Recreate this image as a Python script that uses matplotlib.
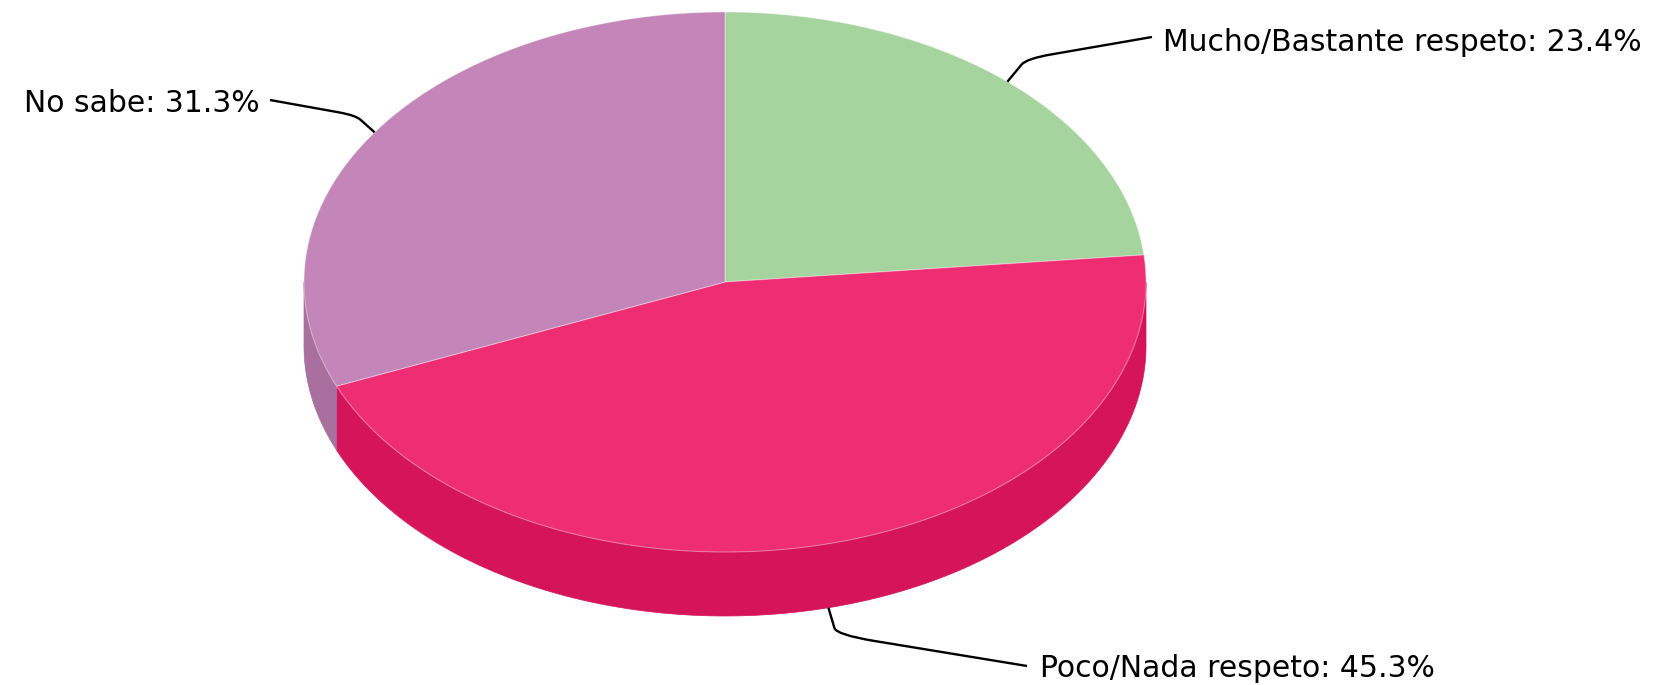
import matplotlib.pyplot as plt
from matplotlib.patches import Polygon, PathPatch
from matplotlib.path import Path
import numpy as np

# data
labels = ['Mucho/Bastante respeto', 'Poco/Nada respeto', 'No sabe']
values = [23.4, 45.3, 31.3]
top_colors = ['#a6d49f', '#ee2d73', '#c485b8']
side_colors = ['#8fbd88', '#d5145a', '#a86f9f']

# pie geometry in pixel units (y grows downwards)
cx, cy = 725, 282
rx, ry = 421, 270
depth = 64

# label positions (text left x, baseline y) and leader elbow offsets
label_pos = [(1163, 51), (1040, 677), (24, 112)]
elbow_off = [(19, -23), (8, 27), (-19, -17)]
text_gap = [(-11, -2), (-13, 1), (246, 0)]


def ell(theta, dz=0):
    # theta in degrees, clockwise from 12 o'clock
    t = np.radians(theta)
    return cx + rx * np.sin(t), cy - ry * np.cos(t) + dz


fig = plt.figure(figsize=(16.81, 6.85), dpi=100)
ax = fig.add_axes([0, 0, 1, 1])
ax.set_xlim(0, 1681)
ax.set_ylim(685, 0)
ax.axis('off')

total = sum(values)
starts = np.cumsum([0] + values[:-1]) / total * 360
ends = np.cumsum(values) / total * 360

# outer walls (only front half is visible)
for i in range(len(values)):
    a0 = max(starts[i], 90)
    a1 = min(ends[i], 270)
    if a1 <= a0:
        continue
    th = np.linspace(a0, a1, 200)
    xt, yt = ell(th)
    xb, yb = ell(th[::-1], depth)
    pts = np.column_stack([np.concatenate([xt, xb]), np.concatenate([yt, yb])])
    ax.add_patch(Polygon(pts, closed=True, facecolor=side_colors[i],
                         edgecolor=side_colors[i], lw=0.5, zorder=1))

# top faces
for i in range(len(values)):
    th = np.linspace(starts[i], ends[i], 300)
    xt, yt = ell(th)
    pts = np.vstack([[cx, cy], np.column_stack([xt, yt])])
    ax.add_patch(Polygon(pts, closed=True, facecolor=top_colors[i],
                         edgecolor=(1, 1, 1, 0.35), lw=0.8, zorder=2))

# labels with leader lines
for i in range(len(values)):
    mid = (starts[i] + ends[i]) / 2
    dz = depth if 90 < mid < 270 else 0
    x0, y0 = ell(mid, dz)
    ex, ey = x0 + elbow_off[i][0], y0 + elbow_off[i][1]
    tx, ty = label_pos[i]
    lx, ly = tx + text_gap[i][0], ty - 12 + text_gap[i][1]
    # short straight segment, rounded elbow, then sweep to label
    px, py = x0 + 0.75 * (ex - x0), y0 + 0.75 * (ey - y0)
    qx, qy = ex + 0.2 * (lx - ex), ey + 0.2 * (ly - ey)
    path = Path([(x0, y0), (px, py), (ex, ey), (qx, qy), (lx, ly)],
                [Path.MOVETO, Path.LINETO, Path.CURVE3, Path.CURVE3, Path.LINETO])
    ax.add_patch(PathPatch(path, facecolor='none', edgecolor='black', lw=1.7, zorder=3))
    ax.text(tx, ty, '%s: %.1f%%' % (labels[i], values[i]), fontsize=21.5,
            color='black', ha='left', va='baseline', zorder=4)

plt.savefig('out.png', dpi=100)
